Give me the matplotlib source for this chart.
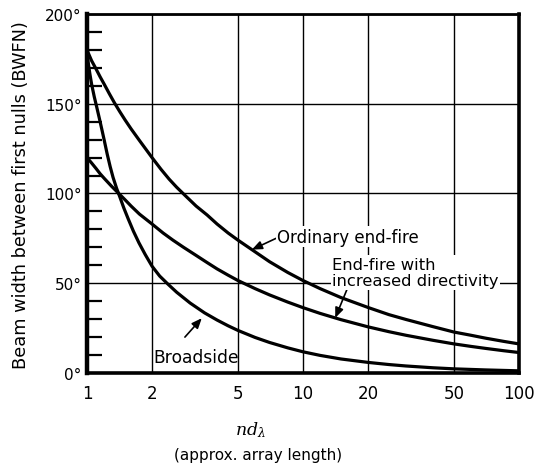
"""
Beam width between first nulls versus array length for
broadside and end-fire arrays.
"""

import numpy as np
import matplotlib.pyplot as plt

plt.rcParams["font.family"] = ["DejaVu Sans"]

# ------------------------------------------------------
# data: array length n*d (wavelengths) and BWFN (degrees)
# ------------------------------------------------------

nd_broadside = [1.0, 1.01, 1.03, 1.05, 1.08, 1.11, 1.14, 1.17, 1.2, 1.24,
                1.28, 1.32, 1.37, 1.42, 1.48, 1.55, 1.64, 1.74, 1.86, 2.0,
                2.17, 2.37, 2.6, 3.0, 3.5, 4.0, 4.5, 5.0, 6.0, 7.0, 8.5,
                10, 12, 15, 20, 25, 30, 40, 50, 70, 100]
bw_broadside = [180, 174, 167, 161, 154, 148, 142, 136, 130, 122,
                115, 109, 103, 98, 92, 86, 79, 72.5, 66, 59.5,
                54, 49.5, 45, 39, 33.5, 29.5, 26.3, 23.7, 19.8, 17, 14,
                11.8, 9.8, 7.8, 5.9, 4.7, 3.9, 2.9, 2.3, 1.7, 1.2]

nd_endfire = [1.0, 1.02, 1.05, 1.1, 1.15, 1.2, 1.27, 1.34, 1.42, 1.5,
              1.6, 1.75, 2.0, 2.2, 2.4, 2.6, 2.84, 3.2, 3.6, 4.0, 4.5,
              5.0, 6.0, 7.0, 8.5, 10, 12, 15, 20, 25, 30, 40, 50, 60,
              70, 85, 100]
bw_endfire = [180, 177.5, 174, 169.5, 165, 161, 155.5, 150.5, 145.5, 141,
              136, 129.5, 120, 113.5, 108, 103.5, 99, 93, 88, 83, 78,
              74, 67.5, 62, 56, 51.5, 47, 42, 36.5, 32.5, 29.8, 25.8, 22.8, 21,
              19.4, 17.6, 16.2]

nd_directive = [1.0, 1.05, 1.1, 1.15, 1.2, 1.3, 1.39, 1.5, 1.6, 1.75,
                2.0, 2.25, 2.5, 2.8, 3.2, 3.6, 4.0, 4.5, 5.0, 6.0, 7.0,
                8.5, 10, 12, 15, 20, 25, 30, 40, 50, 60, 70, 85, 100]
bw_directive = [120, 117, 114, 111, 108.5, 104, 100.5, 96.5, 93, 88.5,
                83, 78, 74, 70, 65.5, 61.5, 58, 54.5, 51.5, 47, 43.5,
                39.5, 36.4, 33.2, 29.7, 25.7, 23, 21, 18.2, 16.2, 14.8,
                13.7, 12.4, 11.4]

x_ticks = [1, 2, 5, 10, 20, 50, 100]
x_tick_labels = ["1", "2", "5", "10", "20", "50", "100"]
y_ticks = [0, 50, 100, 150, 200]
y_tick_labels = ["0°", "50°", "100°", "150°", "200°"]
y_minor = [v for v in range(10, 200, 10) if v % 50 != 0]


def on_curve(nd, xs, ys):
    return np.interp(np.log10(nd), np.log10(xs), ys)


# ------------------------------------------------------
# figure and axes
# ------------------------------------------------------

fig = plt.figure(figsize=(5.38, 4.64), dpi=100)
ax = fig.add_axes([0.1617, 0.194, 0.803, 0.7737])

ax.set_xscale("log")
ax.set_xlim(1, 100)
ax.set_ylim(0, 200)

for xs, ys in [(nd_broadside, bw_broadside),
               (nd_endfire, bw_endfire),
               (nd_directive, bw_directive)]:
    ax.plot(xs, ys, color="black", lw=2.3, solid_capstyle="round",
            solid_joinstyle="round", zorder=3)

ax.set_xticks(x_ticks)
ax.set_xticklabels(x_tick_labels)
ax.xaxis.set_minor_locator(plt.NullLocator())
ax.set_yticks(y_ticks)
ax.set_yticklabels(y_tick_labels)
ax.set_yticks(y_minor, minor=True)

ax.tick_params(axis="x", which="major", length=0, pad=8, labelsize=12)
ax.tick_params(axis="y", which="major", length=0, pad=4, labelsize=11)
ax.tick_params(axis="y", which="minor", direction="in", length=11,
               width=1.6, color="black")

ax.grid(True, which="major", color="black", lw=1.0)

for side, lw in [("left", 3.2), ("bottom", 2.6), ("right", 2.6), ("top", 2.0)]:
    ax.spines[side].set_linewidth(lw)
    ax.spines[side].set_color("black")

# ------------------------------------------------------
# curve labels
# ------------------------------------------------------

arrow = dict(arrowstyle="-|>,head_length=0.6,head_width=0.25",
             color="black", lw=1.2, shrinkA=0, shrinkB=0)
box = dict(facecolor="white", edgecolor="none", pad=1.0)

ax.annotate("", xy=(5.8, on_curve(5.8, nd_endfire, bw_endfire)),
            xytext=(7.5, 75), arrowprops=arrow, zorder=4)
ax.text(7.6, 76, "Ordinary end-fire", fontsize=12, ha="left",
        va="center", bbox=box, zorder=4)

ax.annotate("", xy=(14.1, on_curve(14.1, nd_directive, bw_directive)),
            xytext=(16.1, 47.5), arrowprops=arrow, zorder=4)
ax.text(13.6, 56, "End-fire with\nincreased directivity", fontsize=11.8,
        ha="left", va="center", linespacing=1.15, bbox=box, zorder=4)

ax.annotate("", xy=(3.4, on_curve(3.4, nd_broadside, bw_broadside) - 4),
            xytext=(2.84, 20), arrowprops=arrow, zorder=4)
ax.text(2.02, 9, "Broadside", fontsize=12.3, ha="left", va="center",
        zorder=4)

# ------------------------------------------------------
# axis titles
# ------------------------------------------------------

fig.text(21 / 538, 0.58, "Beam width between first nulls (BWFN)",
         rotation=90, ha="center", va="center", fontsize=12.8)
fig.text(250 / 538, 1 - 430 / 464, r"$nd_\lambda$", ha="center",
         va="center", fontsize=12.5, math_fontfamily="dejavuserif")
fig.text(258 / 538, 1 - 456 / 464, "(approx. array length)", ha="center",
         va="center", fontsize=11)

fig.savefig("out.png", dpi=100)
